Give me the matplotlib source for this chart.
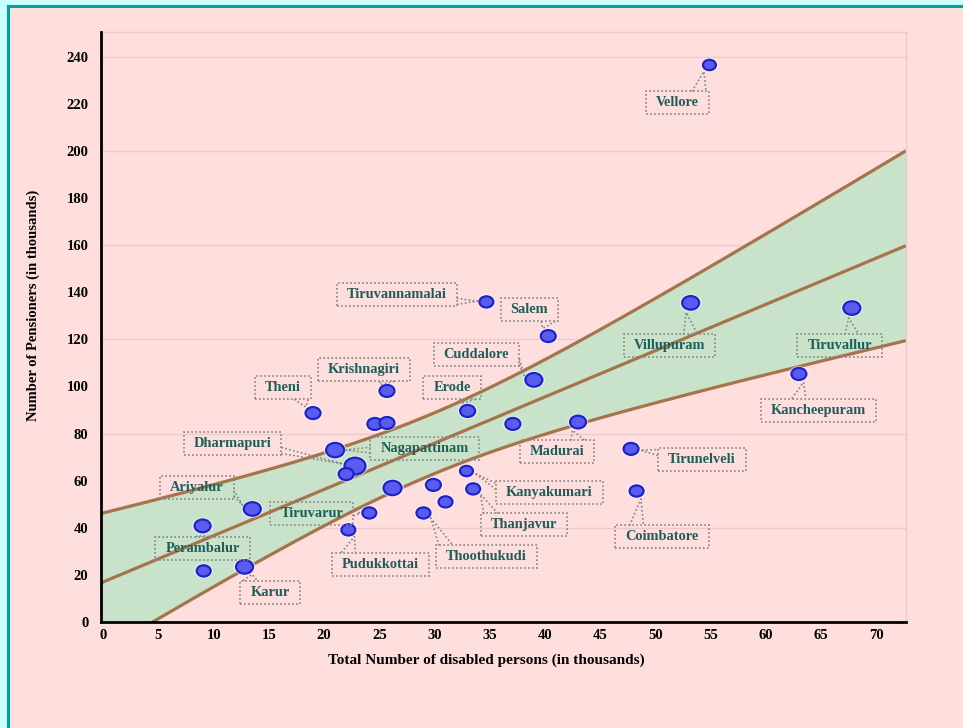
import numpy as np
import matplotlib
matplotlib.use("Agg")
import matplotlib.pyplot as plt
from matplotlib.patches import Rectangle
from matplotlib.path import Path
from matplotlib.transforms import Affine2D

# District-level data (thousands)
districts = [
    "Vellore", "Tiruvannamalai", "Salem", "Krishnagiri", "Theni", "", "",
    "Erode", "Cuddalore", "", "Madurai", "Nagapattinam", "Dharmapuri", "",
    "", "", "Kanyakumari", "Thanjavur", "", "Thoothukudi", "Tiruvarur",
    "Pudukkottai", "Ariyalur", "Perambalur", "", "Karur", "Villupuram",
    "Tiruvallur", "Kancheepuram", "Tirunelveli", "Coimbatore",
]
disabled = [
    54.9, 34.7, 40.3, 25.7, 19.0, 24.6, 25.7,
    33.0, 39.0, 37.1, 43.0, 21.0, 22.8, 22.0,
    26.2, 29.9, 32.9, 33.5, 31.0, 29.0, 24.1,
    22.2, 13.5, 9.0, 9.1, 12.8, 53.2,
    67.8, 63.0, 47.8, 48.3,
]
pensioners = [
    236.5, 135.9, 121.4, 98.1, 88.7, 84.1, 84.5,
    89.6, 102.8, 84.1, 84.9, 73.0, 66.2, 62.8,
    56.9, 58.2, 64.1, 56.5, 51.0, 46.3, 46.3,
    39.1, 48.0, 40.8, 21.7, 23.4, 135.5,
    133.3, 105.3, 73.5, 55.6,
]

# fitted line and its confidence band
fit_intercept = 17.0
fit_slope = 1.964
band_centre = 29.65     # x where the band is narrowest
band_min_half = 12.9    # half-width at the centre
band_spread = 0.887     # growth of half-width away from the centre

x_ticks = [0, 5, 10, 15, 20, 25, 30, 35, 40, 45, 50, 55, 60, 65, 70]
y_ticks = [0, 20, 40, 60, 80, 100, 120, 140, 160, 180, 200, 220, 240]

# marker widths in pixels
marker_px = [13, 14, 15, 15, 15, 15, 15, 15, 17, 15, 16, 18, 21, 15, 18, 15,
             13, 14, 14, 14, 14, 14, 17, 16, 14, 17, 17, 17, 15, 15, 14]

# callout centres (data units)
label_pos = {
    "Vellore": (52.0, 220.4), "Tiruvannamalai": (26.6, 138.9),
    "Salem": (38.6, 132.5), "Cuddalore": (33.8, 113.4),
    "Krishnagiri": (23.6, 107.0), "Theni": (16.3, 99.4),
    "Erode": (31.6, 99.4), "Dharmapuri": (11.7, 75.6),
    "Nagapattinam": (29.1, 73.5), "Madurai": (41.1, 72.2),
    "Tirunelveli": (54.2, 69.2), "Ariyalur": (8.5, 57.3),
    "Kanyakumari": (40.4, 54.8), "Tiruvarur": (18.9, 45.9),
    "Thanjavur": (38.1, 41.2), "Perambalur": (9.0, 31.4),
    "Pudukkottai": (25.1, 24.6), "Thoothukudi": (34.7, 27.6),
    "Coimbatore": (50.6, 36.1), "Karur": (15.1, 12.7),
    "Villupuram": (51.3, 117.2), "Tiruvallur": (66.7, 117.2),
    "Kancheepuram": (64.8, 90.0),
}

PINK = "#FFDEDE"
BAND = "#C8E3C9"
LINE = "#A5744C"
TEXT = "#1F5E5A"
SERIF = "Liberation Serif"

fig = plt.figure(figsize=(9.63, 7.28), dpi=100)
fig.patch.set_facecolor("#CCFFFF")
fig.add_artist(Rectangle((8 / 963, -0.1), 2.0, 1.1 - 6 / 728,
                         transform=fig.transFigure, facecolor=PINK,
                         edgecolor="#00A0A0", lw=2.2, zorder=0))

ax = fig.add_axes([101 / 963, 1 - 622 / 728, 805 / 963, 590 / 728])
ax.set_facecolor("none")
xmin, xmax = -0.2, 72.7
ax.set_xlim(xmin, xmax)
ax.set_ylim(0, 250.5)

x = np.array(disabled)
y = np.array(pensioners)

xs = np.linspace(xmin, xmax, 300)
fit = fit_intercept + fit_slope * xs
half = np.sqrt(band_min_half ** 2 + (band_spread * (xs - band_centre)) ** 2)
ax.fill_between(xs, fit - half, fit + half, color=BAND, lw=0, zorder=1)
for curve in (fit - half, fit, fit + half):
    ax.plot(xs, curve, color=LINE, lw=2.3, zorder=2, solid_capstyle="butt")

# grid
for gy in [40, 80, 120, 160, 200, 240]:
    ax.axhline(gy, color="#EDCACA", lw=1.0, zorder=0.5)

for side in ["top", "right"]:
    ax.spines[side].set_color("#EDCACA")
    ax.spines[side].set_linewidth(1.0)
for side in ["left", "bottom"]:
    ax.spines[side].set_color("black")
    ax.spines[side].set_linewidth(2.0)
ax.spines["left"].set_zorder(5)
ax.spines["bottom"].set_zorder(5)

ax.set_xticks(x_ticks)
ax.set_yticks(y_ticks)
ax.tick_params(length=0)
ax.tick_params(axis="y", pad=9)
ax.tick_params(axis="x", pad=5)
for lab in ax.get_xticklabels() + ax.get_yticklabels():
    lab.set_fontfamily(SERIF)
    lab.set_fontweight("bold")
    lab.set_fontsize(10.5)

# ellipse markers
ell = Path.unit_circle().transformed(Affine2D().scale(1.0, 0.8))
sizes = [(w * 0.72) ** 2 for w in marker_px]
halo = [((w + 5) * 0.72) ** 2 for w in marker_px]
ax.scatter(x, y, s=halo, marker=ell, color="white", alpha=0.55, lw=0,
           zorder=3, clip_on=False)
ax.scatter(x, y, s=sizes, marker=ell, facecolor="#5A5CF0",
           edgecolor="#1E22C8", lw=1.6, zorder=4, clip_on=False)

# callout labels
texts = []
for name, px, py, w in zip(districts, disabled, pensioners, marker_px):
    if not name:
        continue
    lx, ly = label_pos[name]
    t = ax.text(lx, ly, name, ha="center", va="center", fontsize=10.4,
                fontweight="bold", family=SERIF, color=TEXT, zorder=6)
    texts.append((t, px, py, w))

fig.canvas.draw()
renderer = fig.canvas.get_renderer()
inv = ax.transData.inverted()
dotted = dict(color="#858585", lw=1.2, linestyle=(0, (1, 1.4)), zorder=5,
              clip_on=False)
padx, pady = 10, 5
for t, px, py, w in texts:
    bb = t.get_window_extent(renderer)
    L, R = bb.x0 - padx, bb.x1 + padx
    B, T = bb.y0 - pady, bb.y1 + pady
    (dl, db), (dr, dt) = inv.transform([(L, B), (R, T)])
    ax.add_patch(Rectangle((dl, db), dr - dl, dt - db, fill=False,
                           edgecolor="#858585", lw=1.2,
                           linestyle=(0, (1, 1.4)), zorder=5, clip_on=False))
    qx, qy = ax.transData.transform((px, py))
    dx = max(L - qx, qx - R, 0)
    dy = max(B - qy, qy - T, 0)
    if dx > dy:
        ex = L if qx < L else R
        ym = np.clip(qy, B + 5, T - 5)
        bases = [(ex, ym - 3), (ex, ym + 3)]
    else:
        ey = T if qy > T else B
        xm = np.clip(qx, L + 10, R - 10)
        bases = [(xm - 7, ey), (xm + 7, ey)]
    cx, cy = (L + R) / 2, (B + T) / 2
    vx, vy = cx - qx, cy - qy
    d = np.hypot(vx, vy)
    r = w / 2 + 2
    tip = (qx + vx / d * r, qy + vy / d * r)
    pts = inv.transform([bases[0], tip, bases[1]])
    ax.plot(pts[:, 0], pts[:, 1], **dotted)

fig.text(33 / 963, 1 - 305 / 728, "Number of Pensioners (in thousands)",
         rotation=90, ha="center", va="center", family=SERIF,
         fontweight="bold", fontsize=10.5)
fig.text(486 / 963, 1 - 660 / 728,
         "Total Number of disabled persons (in thousands)",
         ha="center", va="center", family=SERIF, fontweight="bold",
         fontsize=11)

fig.savefig("out.png", dpi=100, facecolor=fig.get_facecolor())
